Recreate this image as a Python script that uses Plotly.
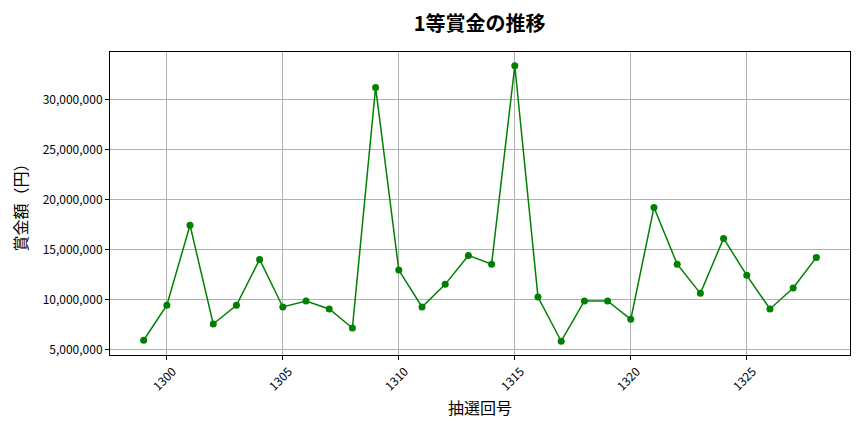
import plotly.graph_objects as go

draws = list(range(1299, 1329))
prizes = [5970000, 9460000, 17460000, 7590000, 9460000, 14040000, 9290000, 9890000, 9090000, 7190000,
          31220000, 12980000, 9290000, 11550000, 14440000, 13570000, 33380000, 10280000, 5870000, 9890000,
          9890000, 8060000, 19230000, 13570000, 10650000, 16140000, 12450000, 9090000, 11180000, 14240000]

font = "Noto Sans CJK JP"

fig = go.Figure()
fig.add_trace(go.Scatter(
    x=draws, y=prizes, mode="lines+markers",
    line=dict(color="green", width=1.5),
    marker=dict(color="green", size=7),
))

ymin, ymax = min(prizes), max(prizes)
pad = (ymax - ymin) * 0.05
xpad = (max(draws) - min(draws)) * 0.05

fig.update_layout(
    width=856, height=424,
    margin=dict(l=102, r=14, t=44, b=77),
    paper_bgcolor="white", plot_bgcolor="white",
    showlegend=False,
    font=dict(family=font, color="black"),
    title=dict(text="<b>1等賞金の推移</b>", x=0.551, xanchor="center", y=0.962, yanchor="middle",
               font=dict(size=20, family=font, color="black")),
)
fig.update_xaxes(
    range=[min(draws) - xpad, max(draws) + xpad],
    tickmode="array", tickvals=[1300, 1305, 1310, 1315, 1320, 1325],
    tickangle=-45, tickfont=dict(size=12, family=font),
    ticklabelshift=6,
    ticks="outside", ticklen=4, tickcolor="black",
    showgrid=True, gridcolor="#b0b0b0", gridwidth=1,
    showline=True, linecolor="black", linewidth=1, mirror=True,
    zeroline=False, automargin=False,
    title=dict(text="抽選回号", font=dict(size=16, family=font), standoff=10),
)
fig.update_yaxes(
    range=[ymin - pad, ymax + pad],
    tickmode="array", tickvals=[5e6, 10e6, 15e6, 20e6, 25e6, 30e6],
    tickformat=",d", tickfont=dict(size=12, family=font),
    ticks="outside", ticklen=4, tickcolor="black",
    showgrid=True, gridcolor="#b0b0b0", gridwidth=1,
    showline=True, linecolor="black", linewidth=1, mirror=True,
    zeroline=False, automargin=False,
    title=dict(text="賞金額（円）", font=dict(size=16, family=font), standoff=12),
)

fig.write_html("out.html")
